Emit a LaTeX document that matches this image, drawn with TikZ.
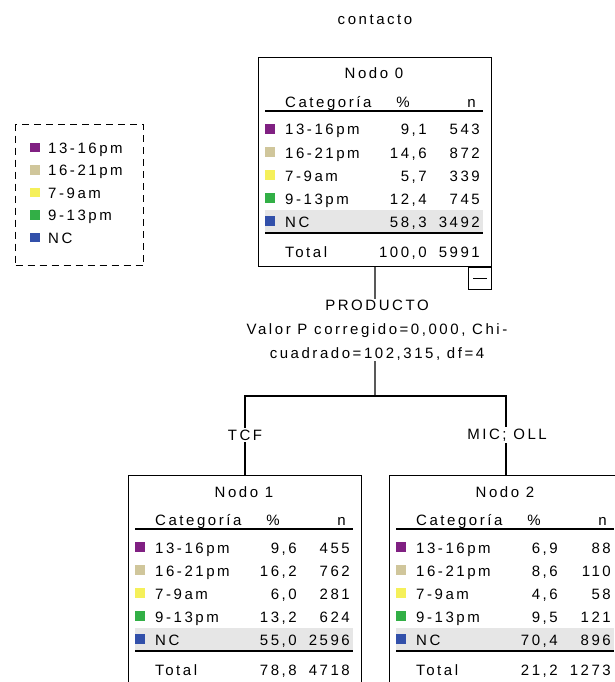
\documentclass[tikz,border=0pt]{standalone}
\usepackage{fontspec}
\setmainfont{Liberation Sans}[LetterSpace=17]
\usetikzlibrary{calc}
\definecolor{cA}{RGB}{128,32,130}
\definecolor{cB}{RGB}{208,198,155}
\definecolor{cC}{RGB}{245,240,90}
\definecolor{cD}{RGB}{50,175,70}
\definecolor{cE}{RGB}{50,80,170}
\definecolor{ncband}{RGB}{230,230,230}
\tikzset{
  nodobox/.style ={draw,line width=1.1pt,minimum width=233pt,minimum height=209pt,inner sep=0pt,anchor=north west},
  legendbox/.style={draw,dashed,dash pattern=on 7pt off 5pt,line width=1.2pt,minimum width=128pt,minimum height=141pt,inner sep=0pt,anchor=north west},
  txt/.style     ={inner sep=0pt,font=\fontsize{15}{16}\selectfont,text=black},
  lft/.style     ={txt,anchor=base west},
  rgt/.style     ={txt,anchor=base east},
  mid/.style     ={txt,anchor=base},
  swatch/.style  ={minimum size=9.5pt,inner sep=0pt},
  rule/.style    ={line width=1.1pt},
  branch/.style  ={line width=1.2pt},
  splitlbl/.style={txt,fill=white,inner sep=1pt,align=center,font=\fontsize{15}{24}\selectfont},
  catlbl/.style  ={txt,fill=white,inner sep=2pt},
}
% #1 name, #2 left, #3 top, #4 number, #5 rows, #6 total %, #7 total n
\newcommand{\nodotabla}[7]{%
  \fill[ncband] (#2+7,#3+153) rectangle (#2+225,#3+175);
  \node[nodobox] (#1) at (#2,#3) {};
  \node[mid] (#1t) at (#2+116,#3+22) {Nodo #4};
  \node[lft] (#1hc) at (#2+27,#3+50) {Categoría};
  \node[mid] (#1hp) at (#2+145,#3+50) {\%};
  \node[rgt] (#1hn) at (#2+218,#3+50) {n};
  \draw[rule] (#2+7,#3+54) -- (#2+225,#3+54);
  \foreach \col/\cat/\pct/\cnt [count=\k from 0] in {#5}{
     \node[swatch,fill=\col] (#1s\k) at (#2+12,#3+72+23*\k) {};
     \node[lft] (#1c\k) at (#2+27,#3+78+23*\k) {\cat};
     \node[rgt] (#1p\k) at (#2+169,#3+78+23*\k) {\pct};
     \node[rgt] (#1n\k) at (#2+222,#3+78+23*\k) {\cnt};
  }
  \draw[rule] (#2+7,#3+176) -- (#2+225,#3+176);
  \node[lft] (#1tc) at (#2+27,#3+200) {Total};
  \node[rgt] (#1tp) at (#2+169,#3+200) {#6};
  \node[rgt] (#1tn) at (#2+222,#3+200) {#7};
}

\begin{document}
\begin{tikzpicture}[x=1pt,y=-1pt]
  \clip (0,0) rectangle (615,682);
  \fill[white] (0,0) rectangle (615,682);
  \node[mid] (dep) at (375,25) {contacto};
  % legend
  \node[legendbox] (legend) at (15,124) {};
  \foreach \col/\cat [count=\k from 0] in {cA/13-16pm,cB/16-21pm,cC/7-9am,cD/9-13pm,cE/NC}{
     \node[swatch,fill=\col] (ls\k) at (35,147.5+22.5*\k) {};
     \node[lft] (lt\k) at (48,153+22.5*\k) {\cat};
  }
  % tree nodes
  \nodotabla{n0}{258}{57}{0}{cA/13-16pm/{9,1}/543,cB/16-21pm/{14,6}/872,cC/7-9am/{5,7}/339,cD/9-13pm/{12,4}/745,cE/NC/{58,3}/3492}{100,0}{5991}
  \nodotabla{n1}{128}{475}{1}{cA/13-16pm/{9,6}/455,cB/16-21pm/{16,2}/762,cC/7-9am/{6,0}/281,cD/9-13pm/{13,2}/624,cE/NC/{55,0}/2596}{78,8}{4718}
  \nodotabla{n2}{389}{475}{2}{cA/13-16pm/{6,9}/88,cB/16-21pm/{8,6}/110,cC/7-9am/{4,6}/58,cD/9-13pm/{9,5}/121,cE/NC/{70,4}/896}{21,2}{1273}
  \node[draw,line width=1.1pt,minimum width=23pt,minimum height=22pt,inner sep=0pt,anchor=north east] (toggle) at (n0.south east) {};
  \draw[line width=1.1pt] ($(toggle.center)+(-7,0)$) -- ($(toggle.center)+(7,0)$);
  % branches
  \coordinate (fork) at (375,396);
  \draw[branch] (n0.south) -- (fork);
  \draw[branch] (n1.north) |- (fork) -| (n2.north);
  \node[splitlbl] (split) at (377,330) {PRODUCTO\\Valor P corregido=0,000, Chi-\\cuadrado=102,315, df=4};
  \node[catlbl] (tcf) at (245,435) {TCF};
  \node[catlbl] (mic) at (507,435) {MIC; OLL};
\end{tikzpicture}
\end{document}
